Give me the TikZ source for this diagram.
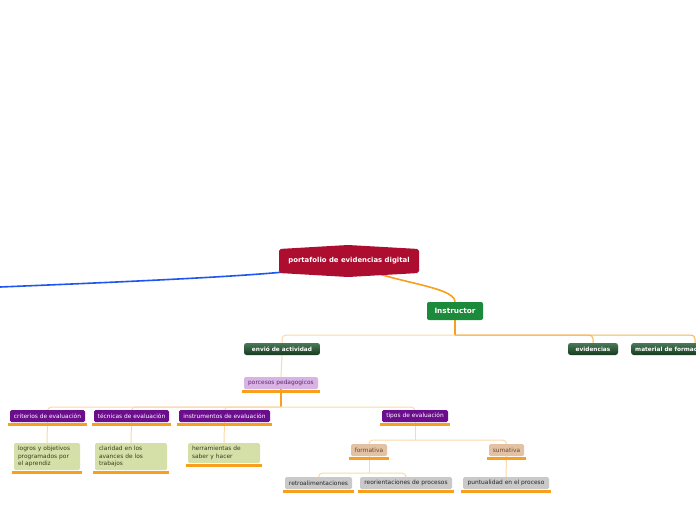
\documentclass[tikz,border=0pt]{standalone}
\usepackage{fontspec}
\setmainfont{DejaVu Sans}
\usetikzlibrary{calc}
\pgfdeclarelayer{bg}
\pgfsetlayers{bg,main}
\definecolor{crimson}{HTML}{AD0E30}
\definecolor{bluel}{HTML}{1F55F0}
\definecolor{instg}{HTML}{1B8A3A}
\definecolor{dgtop}{HTML}{4A7A55}
\definecolor{dgbot}{HTML}{163A1F}
\definecolor{purp}{HTML}{6B0E8C}
\definecolor{lilac}{HTML}{D9B3E6}
\definecolor{lilactext}{HTML}{5A2A6A}
\definecolor{olive}{HTML}{D5E0A8}
\definecolor{olivetext}{HTML}{3A3A20}
\definecolor{tan}{HTML}{E3C2A3}
\definecolor{tantext}{HTML}{6A4A30}
\definecolor{greyb}{HTML}{C9C9C9}
\definecolor{orng}{HTML}{F8A01E}
\definecolor{peach}{HTML}{FCD9A8}
\definecolor{midor}{HTML}{F9B552}
\newcommand\myul[1]{\draw[ulst] ([xshift=-1.5pt,yshift=-2pt]#1.south west) -- ([xshift=1.5pt,yshift=-2pt]#1.south east);}
\begin{document}
\begin{tikzpicture}[x=1pt,y=-1pt,
  box/.style={rounded corners=1.5pt, inner sep=0pt, font=\fontsize{5.9}{7.5}\selectfont},
  dgreen/.style={box, top color=dgtop, bottom color=dgbot, text=white, font=\fontsize{5.8}{6}\selectfont\bfseries, minimum height=12pt, rounded corners=2.5pt},
  purpn/.style={box, fill=purp, text=white, minimum height=12pt},
  lilacn/.style={box, fill=lilac, text=lilactext, minimum height=12pt},
  oliven/.style={box, fill=olive, text=olivetext, align=left},
  tann/.style={box, fill=tan, text=tantext, minimum height=12pt},
  greyn/.style={box, fill=greyb, text=black!85, minimum height=12pt},
  ulst/.style={draw=orng, line width=2.6pt},
  trunk/.style={draw=orng, line width=1.1pt},
  bus/.style={draw=peach, line width=1pt, rounded corners=4pt},
  bus2/.style={draw=midor, line width=1pt, rounded corners=4pt},
]
\useasboundingbox (0,0) rectangle (696,520);
\clip (0,0) rectangle (696,520);

% root
\fill[crimson, rounded corners=2pt] (279,249) -- (348,245) -- (419,249) -- (419,273) -- (348,277) -- (279,273) -- cycle;
\node[text=white, font=\fontsize{6.9}{7}\selectfont\bfseries, inner sep=0pt, minimum width=141pt, minimum height=28pt] (root) at (349,261) {portafolio de evidencias digital};
\coordinate (bl) at (0,287);

% instructor
\node[fill=instg, text=white, font=\fontsize{7.3}{8}\selectfont\bfseries, rounded corners=2pt, inner sep=0pt, minimum width=56pt, minimum height=18pt] (instr) at (455,311) {Instructor};

% level 2
\node[dgreen, minimum width=76pt] (envio) at (282,349) {envió de actividad};
\node[dgreen, minimum width=50pt] (evid) at (593,349) {evidencias};
\node[dgreen, anchor=west, minimum width=100pt, align=left, text width=92pt] (mat) at (631,349) {material de formación};

% level 3
\node[lilacn, minimum width=74pt] (porc) at (281,383) {porcesos pedagogicos};
\myul{porc}

% level 4
\node[purpn, minimum width=75pt] (crit) at (47.5,416) {criterios de evaluación};
\node[purpn, minimum width=75pt] (tec) at (131.5,416) {técnicas de evaluación};
\node[purpn, minimum width=91pt] (inst) at (224.5,416) {instrumentos de evaluación};
\node[purpn, minimum width=66pt] (tipos) at (415,416) {tipos de evaluación};
\myul{crit}\myul{tec}\myul{inst}\myul{tipos}

% level 5
\node[oliven, minimum width=66pt, minimum height=27pt, text width=58pt] (logros) at (47,456.5) {logros y objetivos\\programados por\\el aprendiz};
\node[oliven, minimum width=72pt, minimum height=27pt, text width=64pt] (clar) at (131,456.5) {claridad en los\\avances de los\\trabajos};
\node[oliven, minimum width=72pt, minimum height=20pt, text width=64pt] (herr) at (224,453) {herramientas de\\saber y hacer};
\myul{logros}\myul{clar}\myul{herr}

\node[tann, minimum width=36pt] (form) at (369,450) {formativa};
\node[tann, minimum width=35pt] (sum) at (506.5,450) {sumativa};
\myul{form}\myul{sum}

% level 6
\node[greyn, minimum width=67pt] (retro) at (318.5,483) {retroalimentaciones};
\node[greyn, minimum width=92pt] (reor) at (406,483) {reorientaciones de procesos};
\node[greyn, minimum width=86pt] (punt) at (506,483) {puntualidad en el proceso};
\myul{retro}\myul{reor}\myul{punt}

\begin{pgfonlayer}{bg}
  \fill[white] (0,0) rectangle (696,520);
  \draw[draw=bluel, line width=1.6pt] (root.center) .. controls (320,271) and (270,276) .. (bl);
  \draw[draw=orng, line width=1.6pt] (root.center) .. controls (380,282) and (455,285) .. (instr.north);
  \coordinate (ib) at (instr.south |- 0,335);
  \draw[trunk] (instr.south) -- (ib);
  \draw[bus] (ib) -| (envio.north);
  \draw[bus2] (ib) -| (evid.north);
  \draw[bus2] (ib) -| (695,343);
  \draw[bus] (envio.south) -- (porc.north);
  \coordinate (pb) at (porc.south |- 0,407);
  \draw[trunk] (porc.south) -- (pb);
  \draw[bus] (pb) -| (crit.north);
  \draw[bus] (pb) -| (tec.north);
  \draw[bus] (pb) -| (inst.north);
  \draw[bus] (pb) -| (tipos.north);
  \draw[bus] (crit.south) -- (logros.north);
  \draw[bus] (tec.south) -- (clar.north);
  \draw[bus] (inst.south) -- (herr.north);
  \coordinate (tb) at (tipos.south |- 0,440);
  \draw[bus] (tipos.south) -- (tb);
  \draw[bus] (tb) -| (form.north);
  \draw[bus] (tb) -| (sum.north);
  \coordinate (fb) at (form.south |- 0,473);
  \draw[bus] (form.south) -- (fb);
  \draw[bus] (fb) -| (retro.north);
  \draw[bus] (fb) -| (reor.north);
  \draw[bus] (sum.south) -- (punt.north);
\end{pgfonlayer}
\end{tikzpicture}
\end{document}
